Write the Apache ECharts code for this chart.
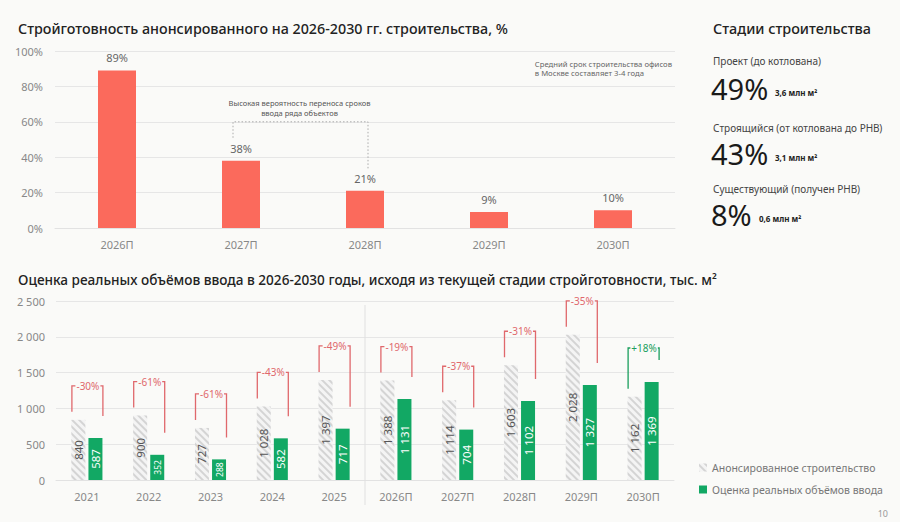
<!DOCTYPE html>
<html><head><meta charset="utf-8">
<script src="https://cdn.jsdelivr.net/npm/echarts@6/dist/echarts.min.js"></script>
<style>html,body{margin:0;padding:0;background:#fafaf8}#c{width:900px;height:522px}</style>
</head><body><div id="c"></div>
<script>
// ---- data ----
const topTitle = 'Стройготовность анонсированного на 2026-2030 гг. строительства, %';
const topCats = ['2026П','2027П','2028П','2029П','2030П'];
const readiness = [89, 38, 21, 9, 10];
const topNote = 'Средний срок строительства офисов\nв Москве составляет 3-4 года';
const delayNote = 'Высокая вероятность переноса сроков\nввода ряда объектов';

const stagesTitle = 'Стадии строительства';
const stageNames = ['Проект (до котлована)', 'Строящийся (от котлована до РНВ)', 'Существующий (получен РНВ)'];
const stageShares = ['49%', '43%', '8%'];
const stageVolumes = ['3,6 млн м²', '3,1 млн м²', '0,6 млн м²'];

const botTitle = 'Оценка реальных объёмов ввода в 2026-2030 годы, исходя из текущей стадии стройготовности, тыс. м²';
const botCats = ['2021','2022','2023','2024','2025','2026П','2027П','2028П','2029П','2030П'];
const announced = [840, 900, 727, 1028, 1397, 1388, 1114, 1603, 2028, 1162];
const realistic = [587, 352, 288, 582, 717, 1131, 704, 1102, 1327, 1369];
const deltaLabels = ['-30%','-61%','-61%','-43%','-49%','-19%','-37%','-31%','-35%','+18%'];
const seriesNames = ['Анонсированное строительство', 'Оценка реальных объёмов ввода'];
const pageNumber = '10';

// ---- style ----
const BG = '#fafaf8', RED = '#fb6a5c', GREEN = '#12a864', BR_RED = '#e0686c', BR_GREEN = '#1a9e5c';
const FONT = 'Noto Sans';
const fmt = v => String(v).replace(/\B(?=(\d{3})+(?!\d))/g, ' ');

const chart = echarts.init(document.getElementById('c'), null, {renderer: 'svg'});

const graphics = [
  {type:'text', left:18, top:21, style:{text: topTitle, font:'500 14.3px "Noto Sans"', fill:'#222'}},
  {type:'text', left:18, top:272, style:{text: botTitle, font:'500 13.6px "Noto Sans"', fill:'#222'}},
  {type:'text', right:228, top:59, style:{text: topNote, font:'7.7px "Noto Sans"', fill:'#666', align:'right', lineHeight:9.5}},
  {type:'text', left:713, top:21, style:{text: stagesTitle, font:'500 14.4px "Noto Sans"', fill:'#222'}},
  {type:'text', right:12, bottom:4, style:{text: pageNumber, font:'9px "Noto Sans"', fill:'#999'}}
];
const stageTops = [56, 123, 184];
const shareTops = [74, 139, 200];
stageNames.forEach((n, i) => {
  graphics.push({type:'text', left:713, top:stageTops[i], style:{text:n, font:'10px "Noto Sans"', fill:'#444'}});
  graphics.push({type:'text', left:711, top:shareTops[i], style:{text:stageShares[i], font:'400 29px "Noto Sans"', fill:'#1a1a1a', lineHeight:26}});
  const w = stageShares[i].length === 3 ? 64 : 48;
  graphics.push({type:'text', left:711 + w, top:shareTops[i] + 14, style:{text:stageVolumes[i], font:'bold 8px "Noto Sans"', fill:'#222'}});
});

const option = {
  backgroundColor: BG,
  animation: false,
  textStyle: {fontFamily: FONT},
  graphic: graphics,
  legend: {
    orient: 'vertical', left: 694, top: 457, itemGap: 11, itemWidth: 8, itemHeight: 8,
    icon: 'rect', data: seriesNames,
    textStyle: {color: '#777', fontSize: 10.5, fontFamily: FONT}
  },
  grid: [
    {left: 55, right: 225, top: 51, bottom: 294},
    {left: 56, right: 226, top: 301, bottom: 42}
  ],
  xAxis: [
    {type:'category', gridIndex:0, data: topCats, axisTick:{show:false},
     axisLine:{lineStyle:{color:'#e2e2e2'}}, axisLabel:{color:'#888', fontSize:11, margin:11}},
    {type:'category', gridIndex:1, data: botCats, axisTick:{show:false},
     axisLine:{lineStyle:{color:'#e2e2e2'}}, axisLabel:{color:'#888', fontSize:11, margin:11}}
  ],
  yAxis: [
    {type:'value', gridIndex:0, min:0, max:100, interval:20,
     axisLabel:{formatter:'{value}%', color:'#888', fontSize:11, margin:12},
     splitLine:{lineStyle:{color:'#e6e6e6'}}},
    {type:'value', gridIndex:1, min:0, max:2500, interval:500,
     axisLabel:{formatter: v => fmt(v), color:'#888', fontSize:11, margin:11},
     splitLine:{lineStyle:{color:'#e6e6e6'}}}
  ],
  series: [
    {type:'bar', xAxisIndex:0, yAxisIndex:0, data: readiness, barWidth:38,
     itemStyle:{color: RED},
     label:{show:true, position:'top', distance:7, formatter:'{c}%', color:'#666', fontSize:11}},
    {type:'custom', xAxisIndex:0, yAxisIndex:0, silent:true, data:[[1, 2, 60]],
     renderItem: function(params, api){
       const a = api.value(0), b = api.value(1);
       const x1 = api.coord([a, 0])[0] - 8;
       const x2 = api.coord([b, 0])[0] + 3;
       const yT = api.coord([a, api.value(2)])[1];
       const y1 = api.coord([a, readiness[a]])[1] - 23;
       const y2 = api.coord([b, readiness[b]])[1] - 21;
       return {type:'group', children:[
         {type:'polyline', shape:{points:[[x1,y1],[x1,yT],[x2,yT],[x2,y2]]},
          style:{stroke:'#aaa', lineWidth:1, lineDash:[1.5,2], fill:null}},
         {type:'text', x:(x1+x2)/2 - 1, y:yT - 4,
          style:{text: delayNote, font:'7.5px "Noto Sans"', fill:'#555', align:'center', verticalAlign:'bottom', lineHeight:10}}
       ]};
     }},
    {type:'bar', name: seriesNames[0], xAxisIndex:1, yAxisIndex:1, barWidth:14, barGap:'22%',
     data: announced.map(v => ({value:v})),
     itemStyle:{color:'#f4f4f4', decal:{symbol:'rect', symbolSize:1, dashArrayX:[[1,0]], dashArrayY:[2,3], rotation:Math.PI/4, color:'#d4d4d4'}},
     label:{show:true, position:'inside', rotate:90, formatter: p => fmt(p.value), color:'#555', fontSize:11.5}},
    {type:'bar', name: seriesNames[1], xAxisIndex:1, yAxisIndex:1, barWidth:14,
     data: realistic.map(v => v < 400 ? {value:v, label:{fontSize:8.5}} : {value:v}),
     itemStyle:{color: GREEN},
     label:{show:true, position:'inside', rotate:90, formatter: p => fmt(p.value), color:'#fff', fontSize:11.5}},
    {type:'custom', xAxisIndex:1, yAxisIndex:1, silent:true,
     data: announced.map((v, i) => [i, v, realistic[i]]),
     renderItem: function(params, api){
       const i = params.dataIndex;
       const base = api.coord([i, 0]);
       const cx = base[0];
       const yA = api.coord([i, api.value(1)])[1];
       const yR = api.coord([i, api.value(2)])[1];
       const yT = Math.min(yA, yR) - 34;
       const xl = cx - 15, xr = cx + 16;
       const col = deltaLabels[i].charAt(0) === '+' ? BR_GREEN : BR_RED;
       const ch = [
         {type:'polyline', shape:{points:[[xl, yA - 8],[xl, yT],[xr, yT],[xr, yR - 22]]},
          style:{stroke: col, lineWidth:1.3, fill:null}},
         {type:'text', x: cx + 1, y: yT,
          style:{text: deltaLabels[i], font:'10px "Noto Sans"', fill: col, align:'center', verticalAlign:'middle',
                 backgroundColor: BG, padding:[0,1]}}
       ];
       if (i === 4) {
         const xs = cx + api.size([1, 0])[0] / 2;
         ch.push({type:'line', shape:{x1:xs, y1:api.coord([i, 2500])[1] + 4, x2:xs, y2: base[1] + 25},
                  style:{stroke:'#e0e0e0', lineWidth:1}});
       }
       return {type:'group', children: ch};
     }}
  ]
};
chart.setOption(option);
</script></body></html>
